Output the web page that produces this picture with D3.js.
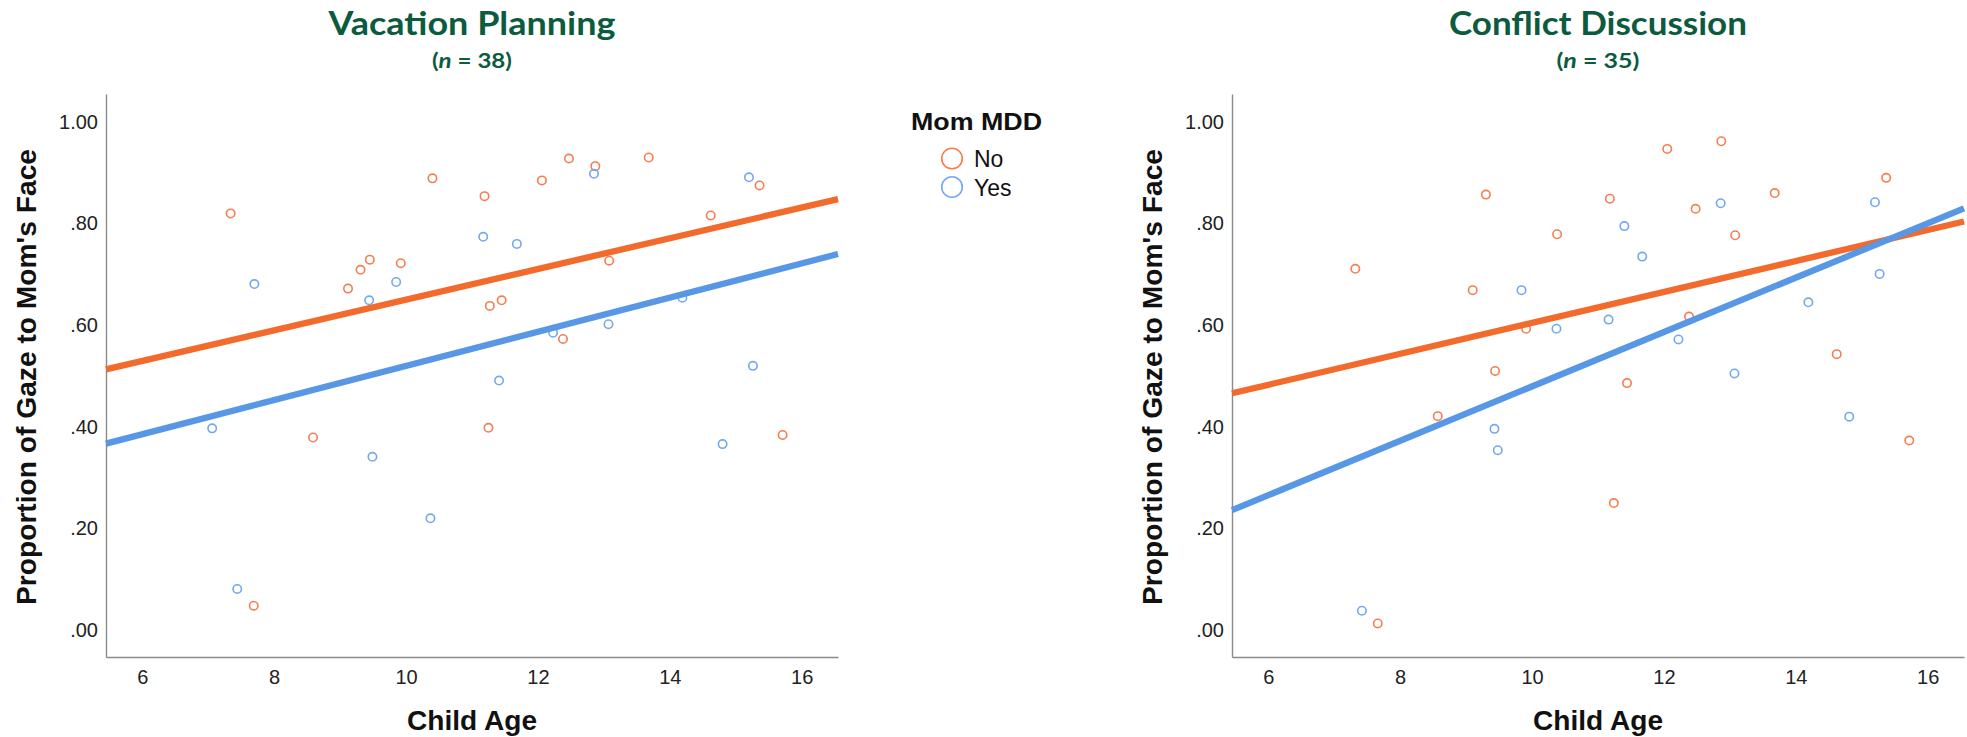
<!DOCTYPE html>
<html>
<head>
<meta charset="utf-8">
<script src="https://cdn.jsdelivr.net/npm/d3@7"></script>
<style>
  html, body { margin: 0; padding: 0; background: #fff; }
  svg { display: block; }
  .tick text { font-family: "Liberation Sans", Arial, sans-serif; fill: #222; }
</style>
</head>
<body>
<svg id="chart" width="1967" height="737"></svg>
<script>
// Child age (years) and proportion of gaze to mom's face, by maternal MDD status
const vacationNo = [
  [7.34, 0.820], [7.69, 0.048], [8.59, 0.379], [9.12, 0.672], [9.31, 0.709],
  [9.45, 0.729], [9.92, 0.722], [10.40, 0.889], [11.19, 0.854], [11.25, 0.398],
  [11.27, 0.638], [11.45, 0.649], [12.06, 0.885], [12.38, 0.573], [12.47, 0.928],
  [12.87, 0.913], [13.08, 0.727], [13.68, 0.930], [14.62, 0.816], [15.36, 0.875],
  [15.71, 0.384]
];
const vacationYes = [
  [7.06, 0.397], [7.44, 0.081], [7.70, 0.681], [9.44, 0.649], [9.49, 0.341],
  [9.85, 0.685], [10.37, 0.220], [11.17, 0.774], [11.41, 0.491], [11.68, 0.760],
  [12.23, 0.585], [12.85, 0.898], [13.07, 0.602], [14.19, 0.654], [14.80, 0.366],
  [15.20, 0.891], [15.26, 0.520]
];
const conflictNo = [
  [7.32, 0.711], [7.66, 0.013], [8.57, 0.421], [9.10, 0.669], [9.30, 0.857],
  [9.44, 0.510], [9.91, 0.593], [10.38, 0.779], [11.18, 0.849], [11.24, 0.250],
  [11.44, 0.486], [12.05, 0.947], [12.38, 0.617], [12.48, 0.829], [12.87, 0.962],
  [13.08, 0.777], [13.68, 0.860], [14.62, 0.543], [15.37, 0.890], [15.72, 0.373]
];
const conflictYes = [
  [7.42, 0.038], [9.43, 0.396], [9.48, 0.354], [9.84, 0.669], [10.37, 0.593],
  [11.16, 0.611], [11.40, 0.795], [11.67, 0.735], [12.22, 0.572], [12.86, 0.840],
  [13.07, 0.505], [14.19, 0.645], [14.81, 0.420], [15.20, 0.842], [15.27, 0.701]
];

// Linear fit lines (value at each end of the age axis)
const vacationFitNo  = [[5.45, 0.513], [16.55, 0.848]];
const vacationFitYes = [[5.45, 0.367], [16.55, 0.740]];
const conflictFitNo  = [[5.45, 0.466], [16.55, 0.804]];
const conflictFitYes = [[5.45, 0.236], [16.55, 0.830]];

const ageTicks = [6, 8, 10, 12, 14, 16];
const gazeTicks = [0, 0.2, 0.4, 0.6, 0.8, 1.0];
const gazeTickLabels = [".00", ".20", ".40", ".60", ".80", "1.00"];
const ageDomain = [5.45, 16.55];
const gazeDomain = [-0.053, 1.055];

const groups = ["No", "Yes"];
const lineColor = { No: "#f26a2c", Yes: "#5797e6" };
const pointColor = { No: "#f47e50", Yes: "#72a9ee" };

const svg = d3.select("#chart");
const titleGreen = "#0c5b3f";

const panels = [
  { title: "Vacation Planning", n: "38", titleWidth: 287, nWidth: 80, x0: 106, x1: 838,
    points: { No: vacationNo, Yes: vacationYes }, fits: { No: vacationFitNo, Yes: vacationFitYes } },
  { title: "Conflict Discussion", n: "35", titleWidth: 298, nWidth: 83, x0: 1232, x1: 1964,
    points: { No: conflictNo, Yes: conflictYes }, fits: { No: conflictFitNo, Yes: conflictFitYes } }
];

const yTop = 94, yBottom = 657;

panels.forEach(p => {
  const x = d3.scaleLinear().domain(ageDomain).range([p.x0, p.x1]);
  const y = d3.scaleLinear().domain(gazeDomain).range([yBottom, yTop]);
  const g = svg.append("g");
  const cx = (p.x0 + p.x1) / 2;

  // titles
  g.append("text")
    .attr("x", cx).attr("y", 35)
    .attr("text-anchor", "middle")
    .attr("textLength", p.titleWidth).attr("lengthAdjust", "spacingAndGlyphs")
    .style("font-family", "Lato, 'Open Sans', sans-serif")
    .style("font-weight", 700).style("font-size", "32px")
    .style("fill", titleGreen)
    .text(p.title);
  const sub = g.append("text")
    .attr("x", cx).attr("y", 68)
    .attr("text-anchor", "middle")
    .attr("textLength", p.nWidth).attr("lengthAdjust", "spacingAndGlyphs")
    .style("font-family", "Lato, 'Open Sans', sans-serif")
    .style("font-weight", 700).style("font-size", "21px")
    .style("fill", titleGreen);
  sub.append("tspan").text("(");
  sub.append("tspan").style("font-style", "italic").text("n");
  sub.append("tspan").text(" = " + p.n + ")");

  // axes
  const xAxis = d3.axisBottom(x).tickValues(ageTicks).tickSize(0).tickPadding(12.5)
    .tickFormat(d3.format("d"));
  const yAxis = d3.axisLeft(y).tickValues(gazeTicks).tickSize(0).tickPadding(8)
    .tickFormat((d, i) => gazeTickLabels[i]);

  const gx = g.append("g").attr("transform", `translate(0,${yBottom})`).call(xAxis);
  const gy = g.append("g").attr("transform", `translate(${p.x0},0)`).call(yAxis);
  [gx, gy].forEach(a => {
    a.select(".domain").attr("stroke", "#8a8a8a").attr("stroke-width", 1.4);
    a.selectAll(".tick text").style("font-size", "20px");
  });

  // axis titles
  g.append("text")
    .attr("x", cx).attr("y", 730)
    .attr("text-anchor", "middle")
    .attr("textLength", 130).attr("lengthAdjust", "spacingAndGlyphs")
    .style("font-family", "'Liberation Sans', Arial, sans-serif")
    .style("font-weight", 700).style("font-size", "28px").style("fill", "#111")
    .text("Child Age");
  g.append("text")
    .attr("transform", `translate(${p.x0 - 70},${377}) rotate(-90)`)
    .attr("text-anchor", "middle")
    .attr("textLength", 456).attr("lengthAdjust", "spacingAndGlyphs")
    .style("font-family", "'Liberation Sans', Arial, sans-serif")
    .style("font-weight", 700).style("font-size", "28.5px").style("fill", "#111")
    .text("Proportion of Gaze to Mom's Face");

  // points
  groups.forEach(k => {
    g.append("g").selectAll("circle").data(p.points[k]).join("circle")
      .attr("cx", d => x(d[0])).attr("cy", d => y(d[1])).attr("r", 4.2)
      .attr("fill", "none").attr("stroke", pointColor[k]).attr("stroke-width", 1.6);
  });

  // fit lines
  const line = d3.line().x(d => x(d[0])).y(d => y(d[1]));
  groups.forEach(k => {
    g.append("path").datum(p.fits[k]).attr("d", line)
      .attr("fill", "none").attr("stroke", lineColor[k]).attr("stroke-width", 6.3);
  });
});

// legend
const legend = svg.append("g");
legend.append("text")
  .attr("x", 911).attr("y", 130)
  .attr("textLength", 131).attr("lengthAdjust", "spacingAndGlyphs")
  .style("font-family", "'Liberation Sans', Arial, sans-serif")
  .style("font-weight", 700).style("font-size", "24px").style("fill", "#111")
  .text("Mom MDD");
groups.forEach((k, i) => {
  const cy = 158.5 + i * 28.5;
  legend.append("circle").attr("cx", 952).attr("cy", cy).attr("r", 10.3)
    .attr("fill", "none").attr("stroke", pointColor[k]).attr("stroke-width", 1.6);
  legend.append("text").attr("x", 974).attr("y", cy + 8.5)
    .style("font-family", "'Liberation Sans', Arial, sans-serif")
    .style("font-size", "23px").style("fill", "#111")
    .text(k);
});
</script>
</body>
</html>
